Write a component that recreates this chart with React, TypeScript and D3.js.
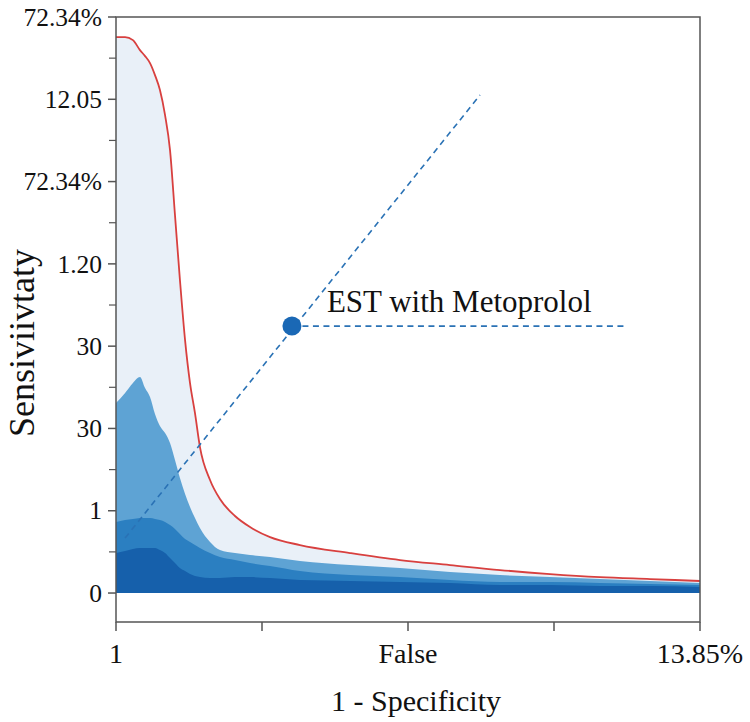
import React from "react";
import * as d3 from "d3";

// Shared x grid (1 - specificity, axis units 0..4)
const xGrid = [0, 0.062, 0.116, 0.164, 0.199, 0.233, 0.267, 0.301, 0.336, 0.37, 0.404, 0.438, 0.473, 0.507, 0.541, 0.575, 0.644, 0.712, 0.815, 0.918, 1.055, 1.26, 1.603, 1.945, 2.288, 2.63, 2.973, 3.315, 3.658, 4.0];

// Outer envelope (red curve)
const envelope = [6.756, 6.756, 6.719, 6.598, 6.525, 6.44, 6.294, 6.112, 5.808, 5.383, 4.593, 3.803, 3.074, 2.552, 2.187, 1.774, 1.373, 1.142, 0.936, 0.802, 0.68, 0.583, 0.486, 0.401, 0.34, 0.279, 0.231, 0.194, 0.17, 0.146];

// Band tops, light to dark
const bandLight = [2.309, 2.43, 2.552, 2.625, 2.491, 2.382, 2.175, 2.029, 1.944, 1.823, 1.616, 1.397, 1.203, 1.045, 0.911, 0.79, 0.62, 0.522, 0.486, 0.462, 0.437, 0.389, 0.34, 0.304, 0.255, 0.219, 0.194, 0.17, 0.146, 0.122];
const bandMid = [0.863, 0.887, 0.899, 0.911, 0.911, 0.911, 0.899, 0.887, 0.863, 0.826, 0.778, 0.717, 0.656, 0.62, 0.583, 0.547, 0.486, 0.437, 0.401, 0.365, 0.328, 0.267, 0.219, 0.194, 0.158, 0.134, 0.134, 0.122, 0.109, 0.097];
const bandDark = [0.486, 0.51, 0.535, 0.547, 0.547, 0.547, 0.547, 0.522, 0.486, 0.425, 0.365, 0.304, 0.267, 0.231, 0.207, 0.194, 0.182, 0.182, 0.194, 0.194, 0.182, 0.158, 0.146, 0.134, 0.122, 0.097, 0.097, 0.085, 0.085, 0.073];

// Axis ticks and labels
const yMajorTicks = [0, 1, 2, 3, 4, 5, 6, 7];
const yTickLabels = ["0", "1", "30", "30", "1.20", "72.34%", "12.05", "72.34%"];
const yMinorTicks = [0.5, 1.5, 2.5, 3.5, 4.5, 5.5, 6.5];
const xTicks = [0, 1, 2, 3, 4];
const xTickLabels: Record<number, string> = { 0: "1", 2: "False", 4: "13.85%" };

// Reference diagonal and annotated point
const diagonal = [
  { x: 0.062, y: 0.668 },
  { x: 2.493, y: 6.051 },
];
const marker = { x: 1.205, y: 3.244, label: "EST with Metoprolol", leaderEnd: 3.5 };

const W = 750;
const H = 722;
const left = 116;
const right = 700;
const top = 17;
const bottom = 622;
const FONT = "'Liberation Serif', 'Times New Roman', serif";

export default function App() {
  const x = d3.scaleLinear().domain([0, 4]).range([left, right]);
  const y = d3.scaleLinear().domain([-0.352, 7]).range([bottom, top]);

  const areaOf = (vals: number[]) =>
    d3
      .area<number>()
      .x((_, i) => x(xGrid[i]))
      .y0(y(0))
      .y1((v) => y(v))
      .curve(d3.curveMonotoneX)(vals) as string;

  const redLine = d3
    .line<number>()
    .x((_, i) => x(xGrid[i]))
    .y((v) => y(v))
    .curve(d3.curveMonotoneX)(envelope) as string;

  const diagPath = d3
    .line<{ x: number; y: number }>()
    .x((d) => x(d.x))
    .y((d) => y(d.y))(diagonal) as string;

  return (
    <svg
      width={W}
      height={H}
      style={{ position: "absolute", left: 0, top: 0, background: "#fff" }}
      fontFamily={FONT}
    >
      <path d={areaOf(envelope)} fill="#e9f0f8" />
      <path d={areaOf(bandLight)} fill="#5ea3d4" />
      <path d={areaOf(bandMid)} fill="#2b7fc1" />
      <path d={areaOf(bandDark)} fill="#1660ab" />
      <path d={redLine} fill="none" stroke="#d8403f" strokeWidth={1.8} />

      <path d={diagPath} fill="none" stroke="#2a72b5" strokeWidth={1.6} strokeDasharray="6,4.5" />
      <line
        x1={x(marker.x)}
        y1={y(marker.y)}
        x2={x(marker.leaderEnd)}
        y2={y(marker.y)}
        stroke="#2a72b5"
        strokeWidth={1.6}
        strokeDasharray="6,4.5"
      />
      <circle cx={x(marker.x)} cy={y(marker.y)} r={9.5} fill="#1a68b5" />
      <text x={x(marker.x) + 35} y={y(marker.y) - 14} fontSize={31} fill="#111">
        {marker.label}
      </text>

      {/* frame */}
      <rect x={left} y={top} width={right - left} height={bottom - top} fill="none" stroke="#555" strokeWidth={1.5} />

      {/* y ticks */}
      {yMajorTicks.map((t, i) => (
        <g key={"ym" + t}>
          <line x1={left - 8} x2={left} y1={y(t)} y2={y(t)} stroke="#555" strokeWidth={1.5} />
          <text x={left - 14} y={y(t)} dy="0.34em" textAnchor="end" fontSize={25.5} fill="#111">
            {yTickLabels[i]}
          </text>
        </g>
      ))}
      {yMinorTicks.map((t) => (
        <line key={"yn" + t} x1={left - 7} x2={left} y1={y(t)} y2={y(t)} stroke="#555" strokeWidth={1.2} />
      ))}

      {/* x ticks */}
      {xTicks.map((t) => (
        <g key={"x" + t}>
          <line x1={x(t)} x2={x(t)} y1={bottom} y2={bottom + 9} stroke="#555" strokeWidth={1.5} />
          {xTickLabels[t] !== undefined && (
            <text x={x(t)} y={663} textAnchor="middle" fontSize={28} fill="#111">
              {xTickLabels[t]}
            </text>
          )}
        </g>
      ))}

      <text x={416} y={711} textAnchor="middle" fontSize={30} fill="#111">
        1 - Specificity
      </text>
      <text
        transform={`translate(34, ${343}) rotate(-90)`}
        textAnchor="middle"
        fontSize={36}
        fill="#111"
      >
        Sensiviivtaty
      </text>
    </svg>
  );
}
